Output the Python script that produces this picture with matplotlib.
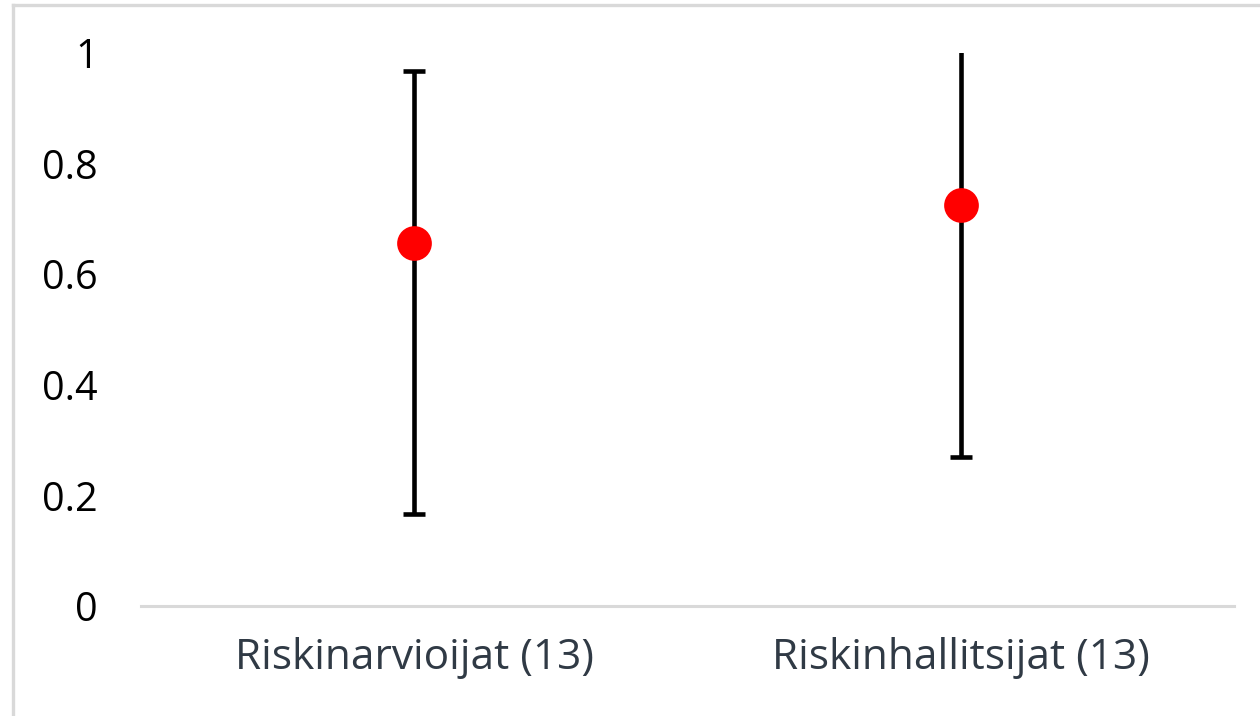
import matplotlib
matplotlib.use("Agg")
import matplotlib.pyplot as plt
from matplotlib.lines import Line2D

categories = ["Riskinarvioijat (13)", "Riskinhallitsijat (13)"]
means = [0.656, 0.725]
lower = [0.166, 0.269]
upper = [0.967, 1.02]
yticks = [0, 0.2, 0.4, 0.6, 0.8, 1]
ytick_labels = ["0", "0.2", "0.4", "0.6", "0.8", "1"]

plt.rcParams['font.family'] = ['Open Sans', 'DejaVu Sans']

fig = plt.figure(figsize=(12.6, 7.16), dpi=100)
ax = fig.add_axes([141/1260, 1-606/716, (1234-141)/1260, (606-53)/716])

x = list(range(len(categories)))
yerr = [[m - l for m, l in zip(means, lower)], [u - m for u, m in zip(upper, means)]]
ax.errorbar(x, means, yerr=yerr, fmt='none', ecolor='black', elinewidth=3.3,
            capsize=7.6, capthick=3.3, zorder=2)
ax.plot(x, means, 'o', color='#ff0000', markersize=25, markeredgewidth=0, zorder=3)

ax.set_xlim(-0.5, 1.5)
ax.set_ylim(0, 1)
ax.set_yticks(yticks)
ax.set_yticklabels(ytick_labels)
ax.set_xticks(x)
ax.set_xticklabels(categories)
for s in ['left', 'right', 'top']:
    ax.spines[s].set_visible(False)
ax.spines['bottom'].set_color('#d9d9d9')
ax.spines['bottom'].set_linewidth(2.2)
ax.tick_params(axis='y', length=0, pad=31, labelsize=28.5, labelcolor='#000000')
ax.tick_params(axis='x', length=0, pad=22, labelsize=30.5, labelcolor='#303a45')

# figure border lines (top & left)
fig.add_artist(Line2D([12.5/1260, 12.5/1260], [0, 1-5/716], transform=fig.transFigure,
                      color='#d9d9d9', linewidth=2.4))
fig.add_artist(Line2D([12.5/1260, 1], [1-5/716, 1-5/716], transform=fig.transFigure,
                      color='#d9d9d9', linewidth=2.4))

fig.savefig("out.png", dpi=100, facecolor='white')
